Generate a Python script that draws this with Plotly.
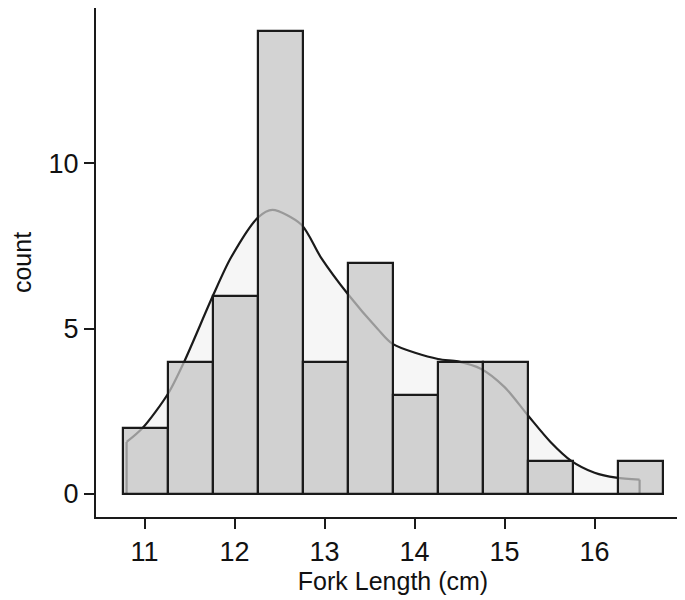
import plotly.graph_objects as go

# histogram bins (left edges, width 0.5) and counts
bin_left = [10.76, 11.26, 11.76, 12.26, 12.76, 13.26, 13.76, 14.26, 14.76, 15.26, 15.76, 16.26]
bin_width = 0.5
counts = [2, 4, 6, 14, 4, 7, 3, 4, 4, 1, 0, 1]

# density curve scaled to counts
dens_x = [10.80, 10.98, 11.26, 11.44, 11.76, 11.96, 12.26, 12.42, 12.74, 12.96, 13.26, 13.59,
          13.76, 14.26, 14.48, 14.74, 15.00, 15.26, 15.51, 15.74, 16.00, 16.24, 16.50]
dens_y = [1.57, 2.00, 3.03, 4.00, 6.00, 7.15, 8.36, 8.59, 8.15, 7.15, 6.04, 4.99,
          4.53, 4.08, 4.01, 3.78, 3.23, 2.37, 1.57, 1.00, 0.64, 0.49, 0.43]

x_ticks = [11, 12, 13, 14, 15, 16]
y_ticks = [0, 5, 10]

x_range = [bin_left[0] - 0.3, bin_left[-1] + bin_width + 0.3]
y_range = [-0.7, 14.7]

FONT = "Liberation Sans, Arial, sans-serif"
LINE = "#1a1a1a"

fig = go.Figure()

# density: filled curve + end drops (base axes, drawn under the bars)
fig.add_trace(go.Scatter(x=dens_x, y=dens_y, mode="lines", fill="tozeroy",
                         fillcolor="rgb(246,246,246)",
                         line=dict(color=LINE, width=2.2, shape="spline", smoothing=0.8),
                         hoverinfo="skip", showlegend=False))
for i in (0, -1):
    fig.add_trace(go.Scatter(x=[dens_x[i], dens_x[i]], y=[0, dens_y[i]], mode="lines",
                             line=dict(color=LINE, width=2.2), hoverinfo="skip", showlegend=False))

# bars on overlay axes so they sit on top of the density line
centers = [b + bin_width / 2 for b in bin_left]
fig.add_trace(go.Bar(x=centers, y=counts, width=bin_width,
                     marker=dict(color="rgba(196,196,196,0.75)", line=dict(color=LINE, width=2.2)),
                     xaxis="x2", yaxis="y2", showlegend=False))

axis_common = dict(showgrid=False, zeroline=False, showline=True, linecolor=LINE, linewidth=2,
                   ticks="outside", ticklen=10, tickwidth=2, tickcolor=LINE, automargin=False,
                   tickfont=dict(family=FONT, size=27, color="#111"))

fig.update_layout(
    width=685, height=600,
    margin=dict(l=88, r=3, t=0, b=91),
    plot_bgcolor="white", paper_bgcolor="white",
    bargap=0,
    xaxis=dict(range=x_range, tickvals=x_ticks, **axis_common,
               title=dict(text="Fork Length (cm)", standoff=5,
                          font=dict(family=FONT, size=25, color="#111"))),
    yaxis=dict(range=y_range, tickvals=y_ticks, **axis_common,
               title=dict(text="count", standoff=17,
                          font=dict(family=FONT, size=25, color="#111"))),
    xaxis2=dict(range=x_range, overlaying="x", visible=False),
    yaxis2=dict(range=y_range, overlaying="y", visible=False),
)

fig.write_html("out.html")
